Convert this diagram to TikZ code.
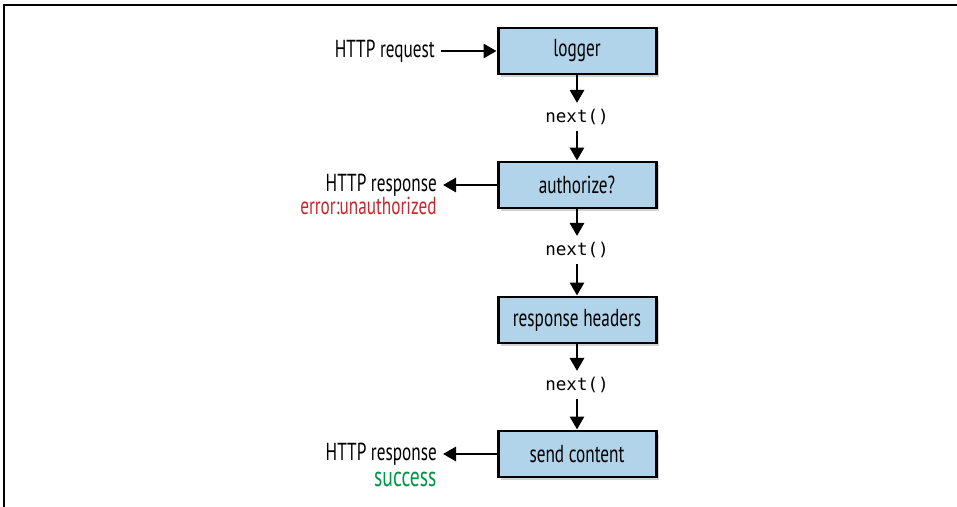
\documentclass[tikz,border=0pt]{standalone}
\usepackage{fontspec}
\setmainfont{PT Sans}[FakeStretch=0.70]
\setmonofont{DejaVu Sans Mono}
\usepackage{tikz}
\usetikzlibrary{arrows.meta,positioning,shadows}
\usepackage{xcolor}
\definecolor{boxcol}{RGB}{178,212,234}
\definecolor{errcol}{RGB}{200,38,44}
\definecolor{okcol}{RGB}{0,150,70}

\begin{document}
\begin{tikzpicture}[
    >={Triangle[length=2.6mm, width=2.8mm]},
    mw/.style={rectangle, minimum width=3.16cm, minimum height=0.92cm, align=center, font=\fontsize{14}{16}\selectfont, draw, line width=1.7pt, fill=boxcol, drop shadow={shadow xshift=1.5pt, shadow yshift=-1.5pt, opacity=0.35}},
    arrow/.style={->, line width=1.6pt},
    call/.style={font=\ttfamily\fontsize{10}{12}\selectfont},
    http/.style={font=\fontsize{14}{16}\selectfont, anchor=east},
    note/.style={font=\fontsize{14}{16}\selectfont, inner sep=1pt},
]
\useasboundingbox (0,0) rectangle (19.14,-10.14);
\draw[line width=1.1pt] (0.08,-10.14) -- (0.08,-0.1) -- (19.14,-0.1);

% middleware chain
\node[mw] (logger) at (11.54,-1.02) {logger};
\node[mw] (auth) at (11.54,-3.70) {authorize?};
\node[mw] (headers) at (11.54,-6.40) {response headers};
\node[mw] (send) at (11.54,-9.08) {send content};

\node[call] (next1) at (11.54,-2.34) {next()};
\node[call] (next2) at (11.54,-5.00) {next()};
\node[call] (next3) at (11.54,-7.70) {next()};

\draw[arrow] (logger) -- (next1);
\draw[arrow] (next1) -- (auth);
\draw[arrow] (auth) -- (next2);
\draw[arrow] (next2) -- (headers);
\draw[arrow] (headers) -- (next3);
\draw[arrow] (next3) -- (send);

% request / responses
\node[http] (req) at (8.82,-1.02) {HTTP request};
\node[http] (resp1) at (8.86,-3.70) {HTTP response};
\node[http] (resp2) at (8.86,-9.08) {HTTP response};

\draw[arrow] (req) -- (logger);
\draw[arrow] (auth) -- (resp1);
\draw[arrow] (send) -- (resp2);

\node[note, text=errcol, below=-4pt of resp1.south east, anchor=north east, xshift=-2.5pt] (err) {error:unauthorized};
\node[note, text=okcol, font=\fontsize{16}{17}\selectfont, below=-1pt of resp2.south east, anchor=north east, xshift=-2.5pt] (ok) {success};
\end{tikzpicture}
\end{document}
